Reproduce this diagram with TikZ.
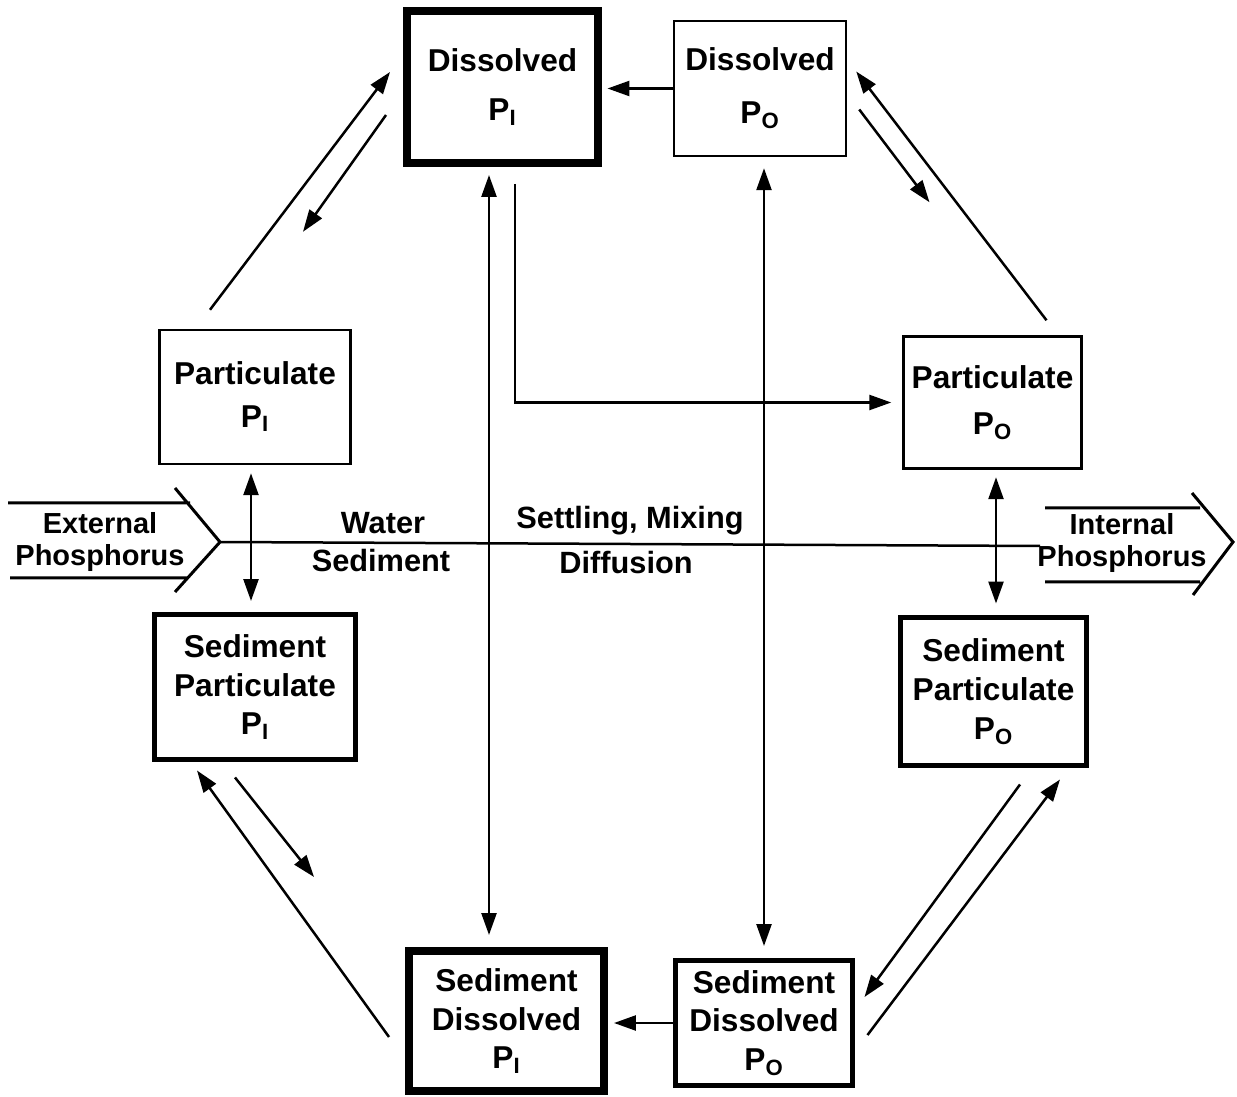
\documentclass[tikz,border=0pt]{standalone}
\usepackage{fontspec}
\setmainfont{Liberation Sans}
\usetikzlibrary{arrows.meta}

\begin{document}
\begin{tikzpicture}[x=0.02cm,y=-0.02cm,line width=0.05cm,
  >={Triangle[length=0.44cm,width=0.3cm]},
  box/.style={draw,align=center,inner sep=0pt,font=\fontsize{18}{22}\selectfont\bfseries},
  thinbox/.style={box,line width=0.05cm},
  midbox/.style={box,line width=0.1cm},
  thickbox/.style={box,line width=0.16cm},
  lbl/.style={inner sep=0pt,align=center,font=\fontsize{17.5}{20}\selectfont\bfseries},
  tag/.style={lbl,font=\fontsize{16.5}{18.5}\selectfont\bfseries}]
\useasboundingbox (0,0) rectangle (1237,1097);
\node[thickbox,minimum width=3.82cm,minimum height=3.04cm] (DIP) at (502.5,87) {Dissolved\\[6pt]P\textsubscript{I}};
\node[thinbox,minimum width=3.44cm,minimum height=2.70cm] (DOP) at (760,88.5) {Dissolved\\[8pt]P\textsubscript{O}};
\node[thinbox,minimum width=3.82cm,minimum height=2.68cm] (PIP) at (255,397) {Particulate\\[2pt]P\textsubscript{I}};
\node[thinbox,minimum width=3.56cm,minimum height=2.64cm] (POP) at (992.5,402.5) {Particulate\\[4pt]P\textsubscript{O}};
\node[midbox,minimum width=4.02cm,minimum height=2.90cm] (SPI) at (255,687) {Sediment\\Particulate\\P\textsubscript{I}};
\node[midbox,minimum width=3.72cm,minimum height=2.96cm] (SPO) at (993.5,691.5) {Sediment\\Particulate\\P\textsubscript{O}};
\node[thickbox,minimum width=3.90cm,minimum height=2.80cm] (SDI) at (506.5,1021) {Sediment\\Dissolved\\P\textsubscript{I}};
\node[midbox,minimum width=3.54cm,minimum height=2.50cm] (SDO) at (764,1023) {Sediment\\Dissolved\\P\textsubscript{O}};
% interface labels
\node[lbl] (water) at (383,523) {Water};
\node[lbl] (sed) at (381,561) {Sediment};
\node[lbl] (settle) at (630,521) {Settling, Mixing};
\node[lbl] (diff) at (626,563) {Diffusion};
\node[tag] (ext) at (100,542) {External\\Phosphorus};
\node[tag] (int) at (1122,543) {Internal\\Phosphorus};
% big open arrows and the water/sediment line
\draw[line width=0.06cm] (8,503) -- (190,503) (10,578) -- (187,578)
  (175,488) -- (220,542) coordinate (tipL) -- (175,592);
\draw[line width=0.06cm] (1045,508) -- (1200,508) (1045,582) -- (1200,582)
  (1192,493) -- (1233,542) -- (1193,595);
\draw (tipL) -- (1040,546) coordinate (lineR);
\draw
  ([shift={(-45,-19)}]PIP.north) edge [->] ([shift={(-13,-15)}]DIP.west)
  ([shift={(-17,28)}]DIP.west) edge [->] ([shift={(48,-97)}]PIP.north)
  ([shift={(54,-15)}]POP.north) edge [->] ([shift={(9,-17)}]DOP.east)
  ([shift={(12,21)}]DOP.east) edge [->] ([shift={(-63,-133)}]POP.north)
  (DOP.west) edge [->] ([xshift=0.11cm]DOP.west -| DIP.east)
%
  ([shift={(-13.5,8)}]DIP.south) edge [<->] ([shift={(-17.5,-12)}]SDI.north)
  ([shift={(4,11)}]DOP.south) edge [<->] ([shift={(0,-12)}]SDO.north)
  ([shift={(-4,8)}]PIP.south) edge [<->] ([shift={(-4,-11)}]SPI.north)
  ([shift={(3.5,7.5)}]POP.south) edge [<->] ([shift={(2.5,-11.5)}]SPO.north)
%
  ([shift={(-16,16)}]SDI.west) edge [->] ([shift={(-58,8.5)}]SPI.south)
  ([shift={(-20,15.5)}]SPI.south) edge [->] ([shift={(-91,-144)}]SDI.west)
  ([shift={(12.5,12)}]SDO.east) edge [->] ([shift={(66.5,11.5)}]SPO.south)
  ([shift={(26.5,16.5)}]SPO.south) edge [->] ([shift={(9.5,-26)}]SDO.east)
  (SDO.west) edge [->] ([xshift=0.12cm]SDO.west -| SDI.east);
\draw[->,shorten >=0.22cm] ([shift={(12.5,17)}]DIP.south) |- (POP.west);
\end{tikzpicture}
\end{document}
